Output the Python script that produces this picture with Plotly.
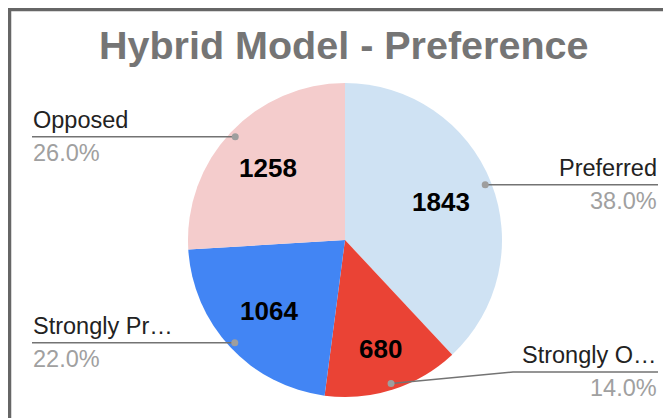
import math

import plotly.graph_objects as go

# --- data ---
labels = ["Preferred", "Strongly Opposed", "Strongly Preferred", "Opposed"]
short_labels = ["Preferred", "Strongly O…", "Strongly Pr…", "Opposed"]
values = [1843, 680, 1064, 1258]
colors = ["#cfe2f3", "#ea4335", "#4285f4", "#f4cccc"]

# radial position of the value labels (fraction of radius)
value_label_r = [0.66, 0.73, 0.66, 0.67]

# page body has an 8px margin, so the figure is shrunk by that much
OFF = 8
W, H = 671 - OFF, 418 - OFF
CX, CY, R = 345, 240, 157  # pie centre / radius in screen pixels
FONT = "Arial, Liberation Sans, sans-serif"


def px(x, y):
    """screen pixel -> paper coords (margins are zero)"""
    return (x - OFF) / W, 1 - (y - OFF) / H


fig = go.Figure()
dx0, dy1 = px(CX - R, CY - R)
dx1, dy0 = px(CX + R, CY + R)
fig.add_trace(
    go.Pie(
        labels=labels,
        values=values,
        sort=False,
        direction="clockwise",
        rotation=0,
        marker=dict(colors=colors, line=dict(width=0)),
        textinfo="none",
        domain=dict(x=[dx0, dx1], y=[dy0, dy1]),
        showlegend=False,
        hoverinfo="label+value+percent",
    )
)

shapes = []
annotations = []

total = sum(values)
cum = 0
for name, v, rf in zip(short_labels, values, value_label_r):
    mid = (cum + v / 2) / total * 2 * math.pi
    cum += v
    dx, dy = math.sin(mid), -math.cos(mid)

    # value inside the slice
    vx, vy = px(CX + rf * R * dx, CY + rf * R * dy)
    annotations.append(dict(x=vx, y=vy, xref="paper", yref="paper", text=f"<b>{v}</b>",
                            showarrow=False, xanchor="center", yanchor="middle",
                            font=dict(family=FONT, size=26, color="#000000")))

    # leader line + dot
    dot_x, dot_y = CX + 0.96 * R * dx, CY + 0.96 * R * dy
    right = dx > 0
    label_y = min(dot_y, 372)
    if right:
        elbow_x, end_x = max(513, dot_x), 658
    else:
        elbow_x, end_x = min(177, dot_x), 32

    pts = [px(dot_x, dot_y), px(elbow_x, label_y), px(end_x, label_y)]
    path = "M {} {} L {} {} L {} {}".format(*[c for p in pts for c in p])
    shapes.append(dict(type="path", path=path, xref="paper", yref="paper",
                       line=dict(color="#737373", width=1.5), layer="above"))
    x0, y0 = px(dot_x - 3.5, dot_y + 3.5)
    x1, y1 = px(dot_x + 3.5, dot_y - 3.5)
    shapes.append(dict(type="circle", xref="paper", yref="paper", x0=x0, x1=x1, y0=y0, y1=y1,
                       fillcolor="#9e9e9e", line=dict(width=0), layer="above"))

    ax, ay = px(end_x, label_y)
    xanchor = "right" if right else "left"
    annotations.append(dict(x=ax, y=ay, xref="paper", yref="paper", text=name, showarrow=False,
                            xanchor=xanchor, yanchor="bottom", yshift=3, borderpad=0,
                            font=dict(family=FONT, size=23.5, color="#222222")))
    annotations.append(dict(x=ax, y=ay, xref="paper", yref="paper",
                            text=f"{v / total * 100:.1f}%", showarrow=False,
                            xanchor=xanchor, yanchor="top", yshift=-2, borderpad=0,
                            font=dict(family=FONT, size=23.5, color="#a0a0a0")))

# title
tx, ty = px(344, 45)
annotations.append(dict(x=tx, y=ty, xref="paper", yref="paper", text="<b>Hybrid Model - Preference</b>",
                        showarrow=False, xanchor="center", yanchor="middle",
                        font=dict(family=FONT, size=39.5, color="#757575")))

# outer frame (cropped at right/bottom)
fx0, fy1 = px(9.5, 9.5)
shapes.append(dict(type="rect", xref="paper", yref="paper", x0=fx0, x1=1.05, y0=-0.05, y1=fy1,
                   line=dict(color="#666666", width=3.5), layer="above"))

fig.update_layout(
    width=W,
    height=H,
    margin=dict(l=0, r=0, t=0, b=0),
    paper_bgcolor="#ffffff",
    plot_bgcolor="#ffffff",
    shapes=shapes,
    annotations=annotations,
)

fig.write_html("out.html")
